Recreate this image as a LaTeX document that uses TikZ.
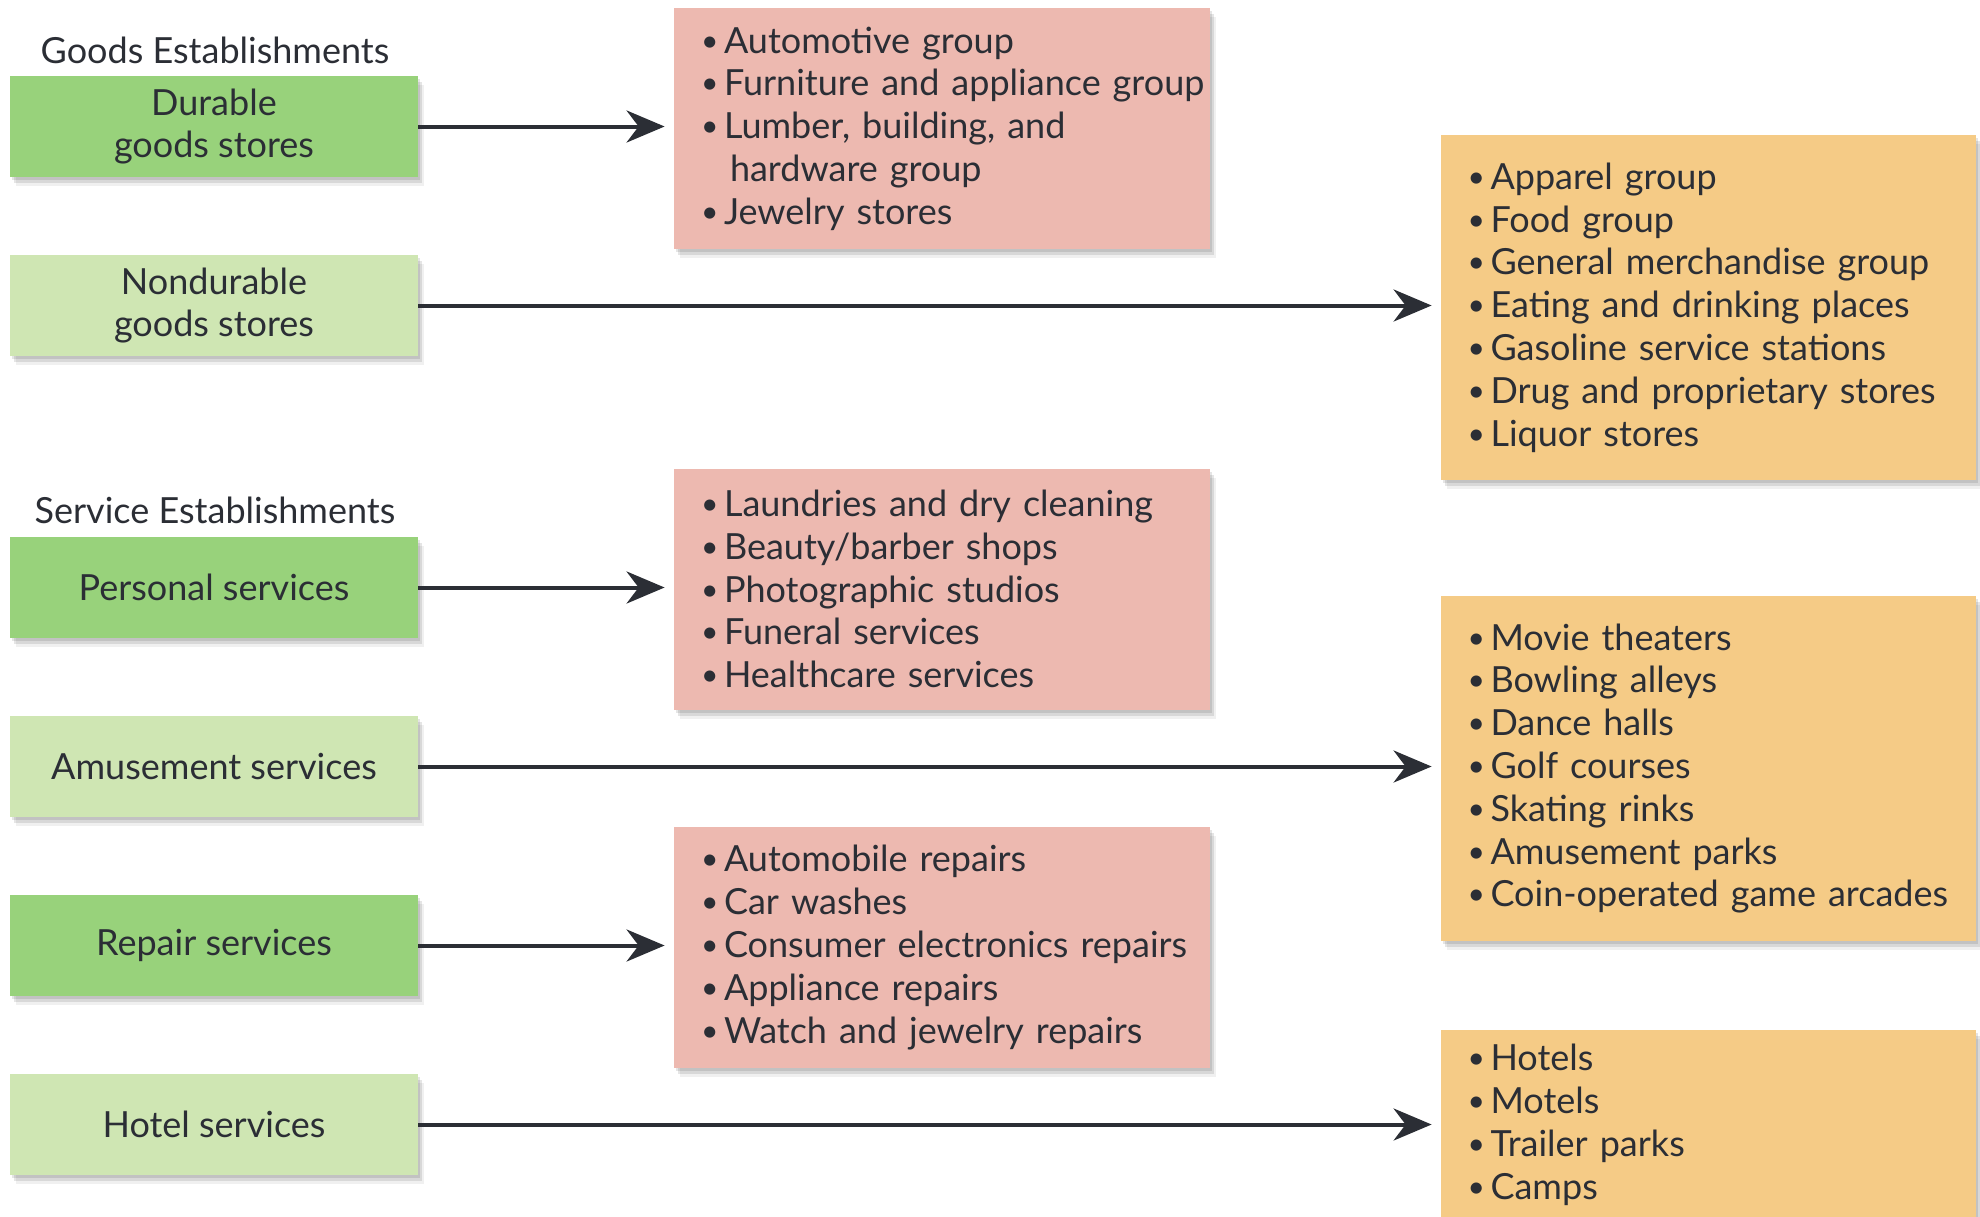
\documentclass[tikz,border=0pt]{standalone}
\usepackage{fontspec}
\setmainfont{Lato}
\usetikzlibrary{arrows.meta,shadows}
\definecolor{txt}{HTML}{2B2E35}
\definecolor{gdark}{HTML}{98D27B}
\definecolor{glight}{HTML}{CFE6B3}
\definecolor{pinkbox}{HTML}{EDB9B0}
\definecolor{orangebox}{HTML}{F5CB86}
\hyphenpenalty=10000
\exhyphenpenalty=10000
\hbadness=10000
\hfuzz=100pt
\newcommand\li[1]{\hspace*{9.5pt}\makebox[11.5pt][l]{\raisebox{1pt}{\fontsize{15}{15}\selectfont •}}\mbox{#1}}
\newcommand\contli[1]{\hspace*{24pt}\mbox{#1}}
\tikzset{
  softshadow/.style={
    drop shadow={shadow xshift=1pt,shadow yshift=-1.5pt,opacity=0.10,fill=black},
    drop shadow={shadow xshift=2pt,shadow yshift=-3pt,opacity=0.10,fill=black},
    drop shadow={shadow xshift=3pt,shadow yshift=-4.5pt,opacity=0.06,fill=black}},
  basefont/.style={font=\fontsize{18}{21.4}\selectfont, text=txt},
  catbox/.style={basefont, minimum width=204pt, minimum height=50.5pt, inner sep=0pt,
    align=center, softshadow},
  pinklist/.style={basefont, fill=pinkbox, minimum width=268pt, minimum height=120.5pt,
    text width=260pt, inner xsep=4pt, inner ysep=0pt, align=left, softshadow},
  orangelist/.style={basefont, fill=orangebox, minimum width=267.5pt, minimum height=172.5pt,
    text width=260pt, inner xsep=3.75pt, inner ysep=0pt, align=left, softshadow},
  heading/.style={basefont},
  conn/.style={draw=txt, line width=2pt, -{Stealth[length=19pt,width=16pt,inset=6pt]}, shorten >=4.5pt}
}
\begin{document}
\begin{tikzpicture}[x=0.5pt,y=-0.5pt]
\useasboundingbox (0,0) rectangle (1980,1216);

% headings
\node[heading] (hgoods) at (215,50) {Goods Establishments};
\node[heading] (hserv) at (215,510) {Service Establishments};

% left category boxes
\node[catbox, fill=gdark] (durable) at (214,126.5) {Durable\\goods stores};
\node[catbox, fill=glight] (nondur) at (214,305.5) {Nondurable\\goods stores};
\node[catbox, fill=gdark] (personal) at (214,587.5) {Personal services};
\node[catbox, fill=glight] (amuse) at (214,766.5) {Amusement services};
\node[catbox, fill=gdark] (repair) at (214,945.5) {Repair services};
\node[catbox, fill=glight] (hotel) at (214,1124.5) {Hotel services};

% pink lists
\node[pinklist] (p1) at (942,128.5) {\li{Automotive group}\\\li{Furniture and appliance group}\\\li{Lumber, building, and}\\\contli{hardware group}\\\li{Jewelry stores}};
\node[pinklist] (p2) at (942,589) {\li{Laundries and dry cleaning}\\\li{Beauty/barber shops}\\\li{Photographic studios}\\\li{Funeral services}\\\li{Healthcare services}};
\node[pinklist] (p3) at (942,947.5) {\li{Automobile repairs}\\\li{Car washes}\\\li{Consumer electronics repairs}\\\li{Appliance repairs}\\\li{Watch and jewelry repairs}};

% orange lists
\node[orangelist] (o1) at (1708.5,307.5) {\li{Apparel group}\\\li{Food group}\\\li{General merchandise group}\\\li{Eating and drinking places}\\\li{Gasoline service stations}\\\li{Drug and proprietary stores}\\\li{Liquor stores}};
\node[orangelist] (o2) at (1708.5,768.5) {\li{Movie theaters}\\\li{Bowling alleys}\\\li{Dance halls}\\\li{Golf courses}\\\li{Skating rinks}\\\li{Amusement parks}\\\li{Coin-operated game arcades}};
\node[orangelist, minimum height=0pt, anchor=north, inner ysep=7pt] (o3) at (1708.5,1030) {\li{Hotels}\\\li{Motels}\\\li{Trailer parks}\\\li{Camps}\\[60pt]\mbox{}};

% connectors
\draw[conn] (durable.east) -- (durable.east -| p1.west);
\draw[conn] (nondur.east) -- (nondur.east -| o1.west);
\draw[conn] (personal.east) -- (personal.east -| p2.west);
\draw[conn] (amuse.east) -- (amuse.east -| o2.west);
\draw[conn] (repair.east) -- (repair.east -| p3.west);
\draw[conn] (hotel.east) -- (hotel.east -| o3.west);
\end{tikzpicture}
\end{document}
